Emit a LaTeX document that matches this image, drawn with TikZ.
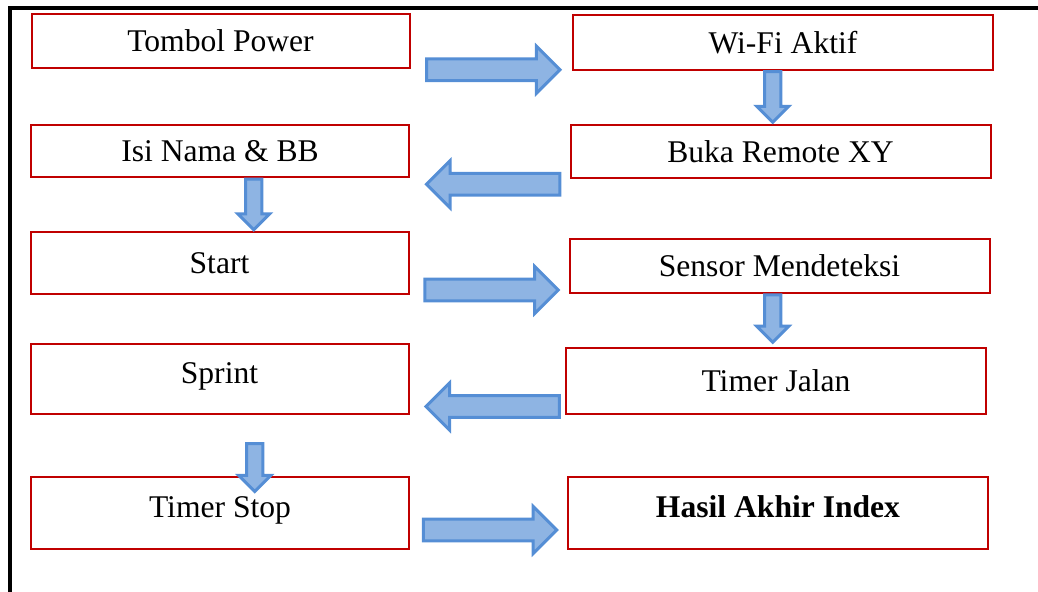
\documentclass[tikz,border=0pt]{standalone}
\usepackage{fontspec}
\setmainfont{Liberation Serif}
\usetikzlibrary{shapes.arrows, positioning, calc}
\definecolor{boxred}{HTML}{C00000}
\definecolor{arrowline}{HTML}{558ED5}
\definecolor{arrowfill}{HTML}{8EB4E3}
\tikzset{
    flowbox/.style={draw=boxred, line width=1.5pt, inner sep=0pt,
      text height=21pt, text depth=5pt, font=\fontsize{23.7}{28}\selectfont},
    narrowbox/.style={flowbox, minimum width=283.5pt},
    widebox/.style={flowbox, minimum width=315pt},
    raised/.style={text depth=15pt},
    blockarrow/.style={single arrow, draw=arrowline, fill=arrowfill, line width=2.25pt,
      inner xsep=0pt, inner ysep=7.1pt, single arrow head extend=9.4pt, minimum height=100pt},
    pointleft/.style={blockarrow, rotate=180},
    pointdown/.style={blockarrow, rotate=-90, inner ysep=4.9pt,
      single arrow head extend=6pt, minimum height=#1},
    pointdown/.default=37pt,
}
\begin{document}
\begin{tikzpicture}[x=0.75pt, y=-0.75pt]
    \useasboundingbox (0,0) rectangle (1038,592);
    \draw[line width=3pt] (10,592) -- (10,8) -- (1038,8);

    \node[narrowbox, minimum height=40.5pt] (power) at (220.5,41) {Tombol Power};
    \node[widebox, minimum height=41.25pt] (wifi) at (783,42.5) {Wi-Fi Aktif};
    \node[narrowbox, minimum height=39pt] (isi) at (220,151) {Isi Nama \& BB};
    \node[widebox, minimum height=39.75pt] (buka) at (780.5,151.5) {Buka Remote XY};
    \node[narrowbox, minimum height=46.5pt] (start) at (219.5,263) {Start};
    \node[widebox, minimum height=40.5pt] (sensor) at (779.5,266) {Sensor Mendeteksi};
    \node[narrowbox, raised, minimum height=52.5pt] (sprint) at (219.5,379) {Sprint};
    \node[widebox, minimum height=49.5pt] (jalan) at (776,381) {Timer Jalan};
    \node[narrowbox, raised, minimum height=54pt] (stop) at (220,513) {Timer Stop};
    \node[widebox, raised, minimum height=54pt] (hasil) at (778,513) {\bfseries Hasil Akhir Index};

    \node[blockarrow] (a1) at ($(power.east)!0.5!(wifi.west)+(-3.5,28)$) {};
    \node[pointdown=38pt] (a2) at ($(wifi.south)!0.5!(buka.north)+(-9,-4.5)$) {};
    \node[pointleft] (a3) at ($(buka.west)!0.5!(isi.east)+(9,33)$) {};
    \node[pointdown=38pt] (a4) at ($(isi.south)!0.5!(start.north)+(34,-4)$) {};
    \node[blockarrow] (a5) at ($(start.east)!0.5!(sensor.west)+(-3,25.5)$) {};
    \node[pointdown=35.5pt] (a6) at ($(sensor.south)!0.5!(jalan.north)+(-5,-6)$) {};
    \node[pointleft] (a7) at ($(jalan.west)!0.5!(sprint.east)+(11,26.5)$) {};
    \node[pointdown=36pt] (a8) at ($(sprint.south)!0.5!(stop.north)+(35,18)$) {};
    \node[blockarrow] (a9) at ($(stop.east)!0.5!(hasil.west)+(-4,17)$) {};
\end{tikzpicture}
\end{document}
